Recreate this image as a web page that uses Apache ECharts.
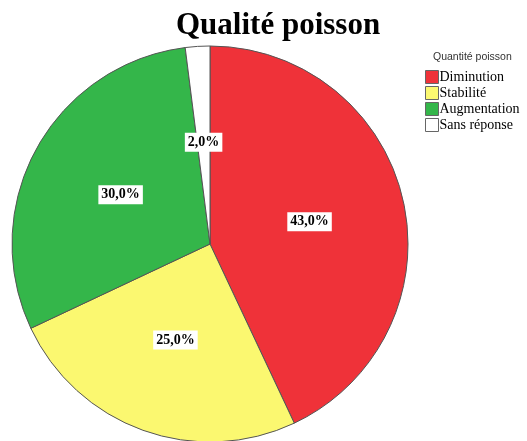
<!DOCTYPE html>
<html>
<head>
<meta charset="utf-8">
<script src="https://cdn.jsdelivr.net/npm/echarts@6/dist/echarts.min.js"></script>
<style>
html,body{margin:0;padding:0;background:#fff;}
#chart{width:527px;height:441px;}
</style>
</head>
<body>
<div id="chart"></div>
<script>
var chart = echarts.init(document.getElementById('chart'));

var categories = ['Diminution', 'Stabilité', 'Augmentation', 'Sans réponse'];
var values = [43.0, 25.0, 30.0, 2.0];
var colors = ['#ef3239', '#fbf870', '#34b64a', '#ffffff'];

var pieData = categories.map(function (name, i) {
	return { name: name, value: values[i], itemStyle: { color: colors[i] } };
});

var option = {
	backgroundColor: '#fff',
	animation: false,
	title: [{
		text: 'Qualité poisson',
		left: 176,
		top: 10,
		padding: 0,
		textStyle: {
			fontFamily: 'Liberation Serif',
			fontWeight: 'bold',
			fontSize: 31,
			color: '#000'
		}
	}, {
		text: 'Quantité poisson',
		left: 433,
		top: 52,
		padding: 0,
		textStyle: {
			fontFamily: 'Liberation Sans',
			fontWeight: 'normal',
			fontSize: 10.5,
			color: '#333'
		}
	}],
	legend: {
		orient: 'vertical',
		left: 425,
		top: 70,
		padding: 0,
		itemWidth: 13,
		itemHeight: 13,
		itemGap: 2,
		icon: 'rect',
		itemStyle: { borderColor: '#666', borderWidth: 1 },
		textStyle: {
			fontFamily: 'Liberation Serif',
			fontSize: 14,
			lineHeight: 13,
			color: '#000',
			padding: [0, 0, 0, -4]
		},
		data: categories
	},
	series: [{
		type: 'pie',
		center: [210, 244],
		radius: 198,
		startAngle: 90,
		clockwise: true,
		itemStyle: { borderColor: '#555', borderWidth: 1 },
		label: {
			position: 'inside',
			formatter: function (p) { return p.value.toFixed(1).replace('.', ',') + '%'; },
			fontFamily: 'Liberation Serif',
			fontWeight: 'bold',
			fontSize: 14,
			color: '#000',
			backgroundColor: '#fff',
			padding: [3, 3, 2, 3]
		},
		labelLine: { show: false },
		emphasis: { disabled: true },
		data: pieData
	}]
};

chart.setOption(option);
</script>
</body>
</html>
